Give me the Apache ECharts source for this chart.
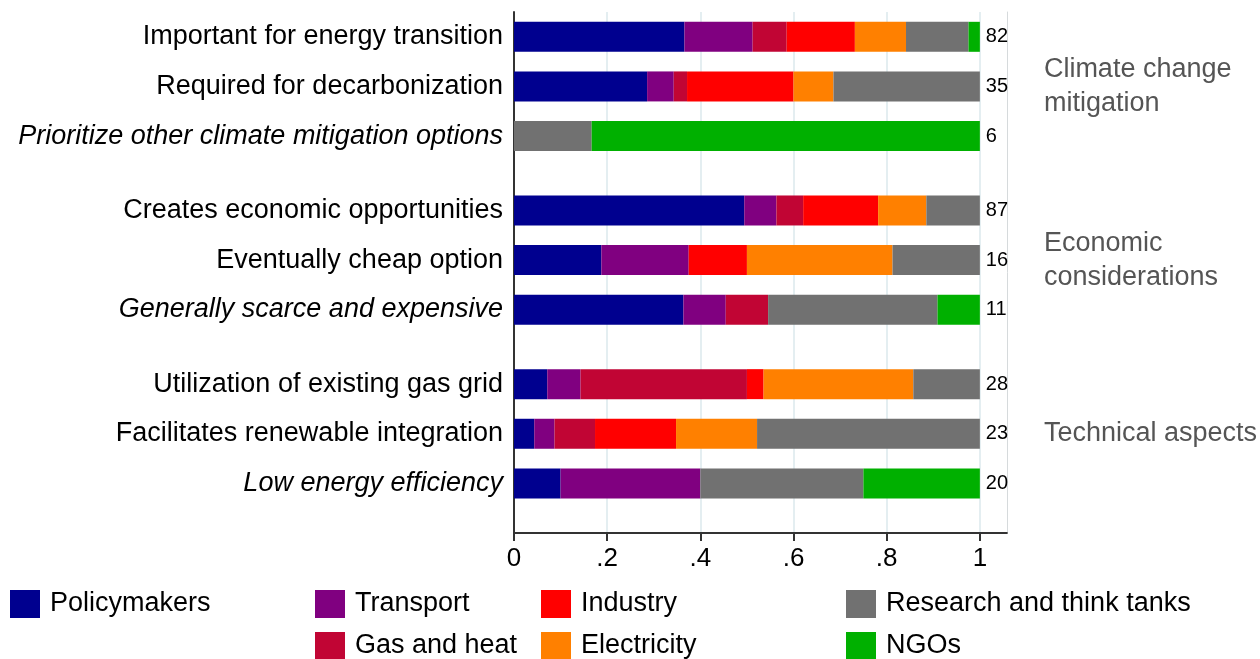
<!DOCTYPE html>
<html lang="en">
<head>
    <meta charset="UTF-8">
    <title></title>
    <script src="https://cdn.jsdelivr.net/npm/echarts@6/dist/echarts.min.js"></script>
</head>
<body style="margin:0">
<div id="box1" style="width: 1260px;height: 659px"></div>
<script>
    // rows, top to bottom; italic = arguments against
    var rows = ['Important for energy transition', 'Required for decarbonization', 'Prioritize other climate mitigation options',
        'Creates economic opportunities', 'Eventually cheap option', 'Generally scarce and expensive',
        'Utilization of existing gas grid', 'Facilitates renewable integration', 'Low energy efficiency'];
    var italicRows = [2, 5, 8];
    var groups = ['Climate change\nmitigation', 'Economic\nconsiderations', 'Technical aspects'];
    var totals = [82, 35, 6, 87, 16, 11, 28, 23, 20];

    // number of mentions per stakeholder group
    var policymakers = [30, 10, 0, 43, 3, 4, 2, 1, 2];
    var transport = [12, 2, 0, 6, 3, 1, 2, 1, 6];
    var gasHeat = [6, 1, 0, 5, 0, 1, 10, 2, 0];
    var industry = [12, 8, 0, 14, 2, 0, 1, 4, 0];
    var electricity = [9, 3, 0, 9, 5, 0, 9, 4, 0];
    var research = [11, 11, 1, 10, 3, 4, 4, 11, 7];
    var ngos = [2, 0, 5, 0, 0, 1, 0, 0, 5];

    var xTicks = [0, 0.2, 0.4, 0.6, 0.8, 1];

    // slot layout: a blank slot between rows, a wider gap between groups
    var slotOf = [1, 3, 5, 8, 10, 12, 15, 17, 19];
    var nSlots = 22;
    var slots = [], groupSlots = [];
    for (var i = 0; i < nSlots; i++) { slots.push(''); groupSlots.push(''); }
    rows.forEach(function (r, i) {
        slots[slotOf[i]] = italicRows.indexOf(i) >= 0 ? '{it|' + r + '}' : r;
    });
    groupSlots[slotOf[1]] = groups[0];
    groupSlots[slotOf[4]] = groups[1];
    groupSlots[slotOf[7]] = groups[2];

    function share(arr) {
        var out = [];
        for (var i = 0; i < nSlots; i++) out.push('-');
        arr.forEach(function (v, i) { out[slotOf[i]] = v / totals[i]; });
        return out;
    }
    var slotRow = {};
    slotOf.forEach(function (s, i) { slotRow[s] = i; });

    var names = ['Policymakers', 'Transport', 'Gas and heat', 'Industry', 'Electricity', 'Research and think tanks', 'NGOs'];
    var colors = ['#00008f', '#800080', '#c10534', '#ff0000', '#ff8000', '#717171', '#00b000'];
    var values = [policymakers, transport, gasHeat, industry, electricity, research, ngos];

    var font = 'Liberation Sans, Arial, sans-serif';
    var series = values.map(function (v, k) {
        var s = {
            name: names[k],
            type: 'bar',
            stack: 'all',
            barWidth: 30,
            data: share(v),
            itemStyle: {color: colors[k]},
            emphasis: {disabled: true}
        };
        if (k === values.length - 1) {
            s.label = {
                show: true,
                position: 'right',
                distance: 6,
                fontFamily: font,
                fontSize: 20,
                color: '#000',
                formatter: function (p) { return totals[slotRow[p.dataIndex]]; }
            };
        }
        return s;
    });

    var mychar = echarts.init(document.getElementById('box1'));
    var legendText = {fontFamily: font, fontSize: 27, color: '#000', padding: [0, 0, 0, 5]};
    function legendAt(left, items) {
        return {
            data: items, left: left, top: 590, orient: 'vertical', height: 200, padding: 0,
            itemWidth: 30, itemHeight: 28, itemGap: 14, icon: 'rect',
            selectedMode: false, textStyle: legendText
        };
    }
    var option = {
        animation: false,
        grid: {left: 514, right: 253, top: 12, bottom: 126, containLabel: false},
        legend: [
            legendAt(10, ['Policymakers']),
            legendAt(315, ['Transport', 'Gas and heat']),
            legendAt(541, ['Industry', 'Electricity']),
            legendAt(846, ['Research and think tanks', 'NGOs'])
        ],
        xAxis: {
            type: 'value',
            min: 0,
            max: 1.058,
            interval: 0.2,
            axisLine: {show: true, lineStyle: {color: '#333', width: 2}},
            axisTick: {show: true, length: 8, customValues: xTicks, lineStyle: {color: '#333', width: 2}},
            axisLabel: {
                customValues: xTicks,
                margin: 13,
                fontFamily: font, fontSize: 26, color: '#000',
                formatter: function (v) {
                    if (v === 0) return '0';
                    if (v === 1) return '1';
                    return String(+v.toFixed(1)).replace('0.', '.');
                }
            },
            splitLine: {show: true, lineStyle: {color: '#e4eef1', width: 2}}
        },
        yAxis: [{
            type: 'category',
            inverse: true,
            boundaryGap: false,
            data: slots,
            axisLine: {show: true, lineStyle: {color: '#333', width: 2}},
            axisTick: {show: false},
            axisLabel: {
                interval: 0, margin: 11,
                fontFamily: font, fontSize: 27, color: '#000',
                rich: {it: {fontStyle: 'italic', fontFamily: font, fontSize: 27, color: '#000'}}
            }
        }, {
            type: 'category',
            inverse: true,
            boundaryGap: false,
            position: 'right',
            data: groupSlots,
            axisLine: {show: true, lineStyle: {color: '#d6dadc', width: 1}},
            axisTick: {show: false},
            axisLabel: {
                interval: 0, margin: 37, align: 'left', lineHeight: 34,
                fontFamily: font, fontSize: 27, color: '#555'
            }
        }],
        series: series
    };
    mychar.setOption(option);
</script>
</body>
</html>
